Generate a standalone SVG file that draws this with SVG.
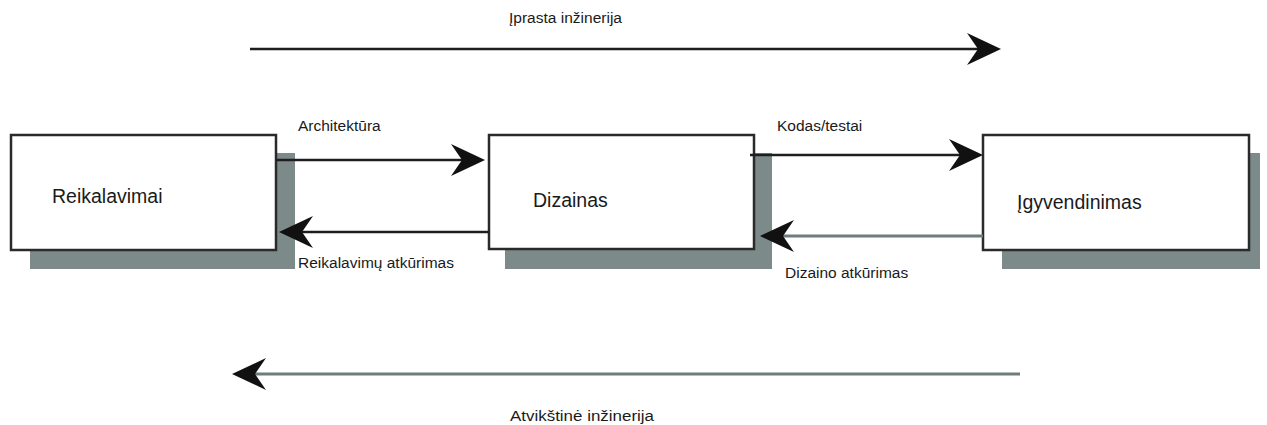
<svg xmlns="http://www.w3.org/2000/svg" width="1267" height="425" viewBox="0 0 1267 425">
  <style>
    .shadow { fill: #7d8a8a; }
    .box { fill: #ffffff; stroke: #2a2a2a; stroke-width: 2.5; }
    .node-label { font-family: "Liberation Sans", Arial, sans-serif; font-size: 19.5px; fill: #1a1a1a; }
    .edge-label { font-family: "Liberation Sans", Arial, sans-serif; font-size: 15.5px; fill: #1a1a1a; }
    .title-label { font-family: "Liberation Sans", Arial, sans-serif; font-size: 14px; fill: #1a1a1a; }
    .line { fill: none; stroke: #1e1e1e; stroke-width: 2.5; }
    .line-grey { fill: none; stroke: #6e7c7c; stroke-width: 3; }
    .head { fill: #111111; }
  </style>
  <defs>
    <!-- concave-backed arrowhead, tip at the origin pointing right -->
    <path id="head" class="head" d="M0,0 L-34,-16 L-23,0 L-34,16 Z"/>
  </defs>
  <rect width="1267" height="425" fill="#ffffff"/>

  <g id="node-reikalavimai">
    <rect class="shadow" x="30" y="153" width="265" height="116"/>
    <rect class="box" x="11" y="135" width="265" height="115"/>
    <text class="node-label" x="52" y="203">Reikalavimai</text>
  </g>
  <g id="node-dizainas">
    <rect class="shadow" x="505" y="153" width="267" height="116"/>
    <rect class="box" x="489" y="135" width="265" height="114"/>
    <text class="node-label" x="533" y="207">Dizainas</text>
  </g>
  <g id="node-igyvendinimas">
    <rect class="shadow" x="1002" y="153" width="258" height="116"/>
    <rect class="box" x="983" y="135" width="266" height="115"/>
    <text class="node-label" x="1017" y="209">Įgyvendinimas</text>
  </g>

  <g id="connectors">
    <!-- forward engineering (top) -->
    <line class="line" x1="250" y1="49" x2="985" y2="49"/>
    <use href="#head" transform="translate(1001,49)"/>
    <!-- reverse engineering (bottom) -->
    <line class="line-grey" x1="1020" y1="374" x2="250" y2="374"/>
    <use href="#head" transform="translate(232,374) rotate(180)"/>
    <!-- Architektūra -->
    <line class="line" x1="276" y1="160" x2="468" y2="160"/>
    <use href="#head" transform="translate(485,160)"/>
    <!-- Reikalavimų atkūrimas -->
    <line class="line" x1="489" y1="232" x2="296" y2="232"/>
    <use href="#head" transform="translate(279,232) rotate(180)"/>
    <!-- Kodas/testai -->
    <line class="line" x1="750" y1="155" x2="966" y2="155"/>
    <use href="#head" transform="translate(983,155)"/>
    <!-- Dizaino atkūrimas -->
    <line class="line-grey" x1="983" y1="236" x2="776" y2="236"/>
    <use href="#head" transform="translate(760,236) rotate(180)"/>
  </g>

  <g id="labels">
    <text class="title-label" x="509" y="23" textLength="113" lengthAdjust="spacingAndGlyphs">Įprasta inžinerija</text>
    <text class="title-label" x="510" y="421" textLength="144" lengthAdjust="spacingAndGlyphs">Atvikštinė inžinerija</text>
    <text class="edge-label" x="298" y="131">Architektūra</text>
    <text class="edge-label" x="298" y="268">Reikalavimų atkūrimas</text>
    <text class="edge-label" x="777" y="131">Kodas/testai</text>
    <text class="edge-label" x="785" y="278">Dizaino atkūrimas</text>
  </g>
</svg>
